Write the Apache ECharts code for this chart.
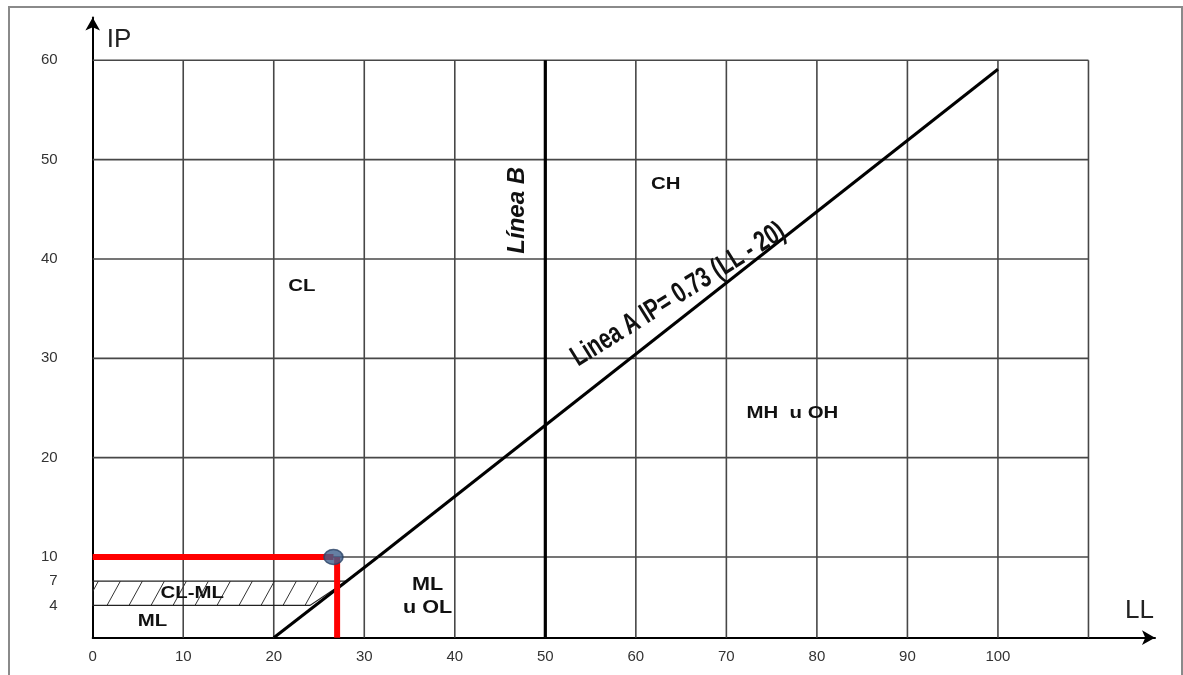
<!DOCTYPE html>
<html><head><meta charset="utf-8">
<script src="https://cdn.jsdelivr.net/npm/echarts@6/dist/echarts.min.js"></script>
<style>html,body{margin:0;padding:0;background:#fff}#c{width:1183px;height:675px}</style>
</head><body><div id="c"></div>
<script>
// ---------------- DATA ----------------
const LL_TICKS = [0, 10, 20, 30, 40, 50, 60, 70, 80, 90, 100];
const GRID_LL = [10, 20, 30, 40, 50, 60, 70, 80, 90, 100, 110];
const GRID_IP = [10, 20, 30, 40, 50, 60];
const IP_TICKS_LOW = [4, 7];
const LL_END = 110, IP_END = 60, IP_SPLIT = 10;
const lineA = [[20, 0], [31.5, 10], [100, 59.1]];
const lineB = [[50, 0], [50, 10], [50, 60]];
const hatchZone = [[0, 4], [0, 7], [28, 7], [24, 4]];
const samplePoint = [26.6, 10];
const sampleDropLL = 27;
const zoneNames = ['CL', 'CH', 'MH  u OH', 'ML\nu OL', 'CL-ML', 'ML'];
const zoneLL = [23.1, 63.3, 77.3, 37.0, 11.0, 6.6];
const zoneIP = [37.2, 47.5, 24.5, 5.13, 5.5, 2.0];
const lineNames = ['Línea B', 'Linea A IP= 0.73 (LL - 20)'];
const lineNameLL = [46.9, 64.7];
const lineNameIP = [44.9, 36.4];

// ---------------- STYLE / BUILD ----------------
const FONT = '"Liberation Sans", Arial, sans-serif';
const X_MAX = 117.35, Y_TOP = 64.3;

function segItem(color, width) {
  return function (params, api) {
    const p1 = api.coord([api.value(0), api.value(1)]);
    const p2 = api.coord([api.value(2), api.value(3)]);
    return { type: 'line', shape: { x1: p1[0], y1: p1[1], x2: p2[0], y2: p2[1] },
      style: { stroke: color, lineWidth: width } };
  };
}
const vLow = GRID_LL.map(x => [x, 0, x, IP_SPLIT]);
const vHigh = GRID_LL.map(x => [x, IP_SPLIT, x, IP_END]);
const hHigh = GRID_IP.map(y => [0, y, LL_END, y]);

// hatch pattern
const pc = document.createElement('canvas');
pc.width = 22; pc.height = 40;
const pctx = pc.getContext('2d');
pctx.strokeStyle = '#333'; pctx.lineWidth = 1;
[-22, 0, 22].forEach(o => { pctx.beginPath(); pctx.moveTo(o, 40); pctx.lineTo(o + 22, 0); pctx.stroke(); });

// labels
const labels = [];
zoneNames.forEach((t, i) => {
  const multi = t.indexOf('\n') >= 0;
  labels.push({ ll: zoneLL[i], ip: zoneIP[i], text: t, fontSize: multi ? 18 : 17,
    fontWeight: 'bold', fontStyle: 'normal', scaleX: 1.2, rot: 0, lineHeight: 23 });
});
labels.push({ ll: lineNameLL[0], ip: lineNameIP[0], text: lineNames[0], fontSize: 24,
  fontWeight: 'bold', fontStyle: 'italic', scaleX: 1, rot: Math.PI / 2, lineHeight: 26 });
labels.push({ ll: lineNameLL[1], ip: lineNameIP[1], text: lineNames[1], fontSize: 29,
  fontWeight: 'bold', fontStyle: 'normal', scaleX: 0.72, rot: 32 * Math.PI / 180, lineHeight: 30 });
const lowLabels = labels.filter(l => l.ip < IP_SPLIT);
const highLabels = labels.filter(l => l.ip >= IP_SPLIT);
function textItem(list) {
  return function (params, api) {
    const t = list[params.dataIndex];
    const p = api.coord([api.value(0), api.value(1)]);
    return { type: 'text', x: p[0], y: p[1], rotation: t.rot, scaleX: t.scaleX,
      style: { text: t.text, fill: '#111', fontSize: t.fontSize, fontWeight: t.fontWeight,
        fontStyle: t.fontStyle, fontFamily: FONT, align: 'center', verticalAlign: 'middle',
        lineHeight: t.lineHeight } };
  };
}

const lineStyleBlack = { color: '#000', width: 3 };
const option = {
  backgroundColor: '#fff',
  animation: false,
  graphic: [{ type: 'rect', silent: true, z: -10,
    shape: { x: 9, y: 7, width: 1173, height: 700 },
    style: { fill: 'none', stroke: '#8a8a8a', lineWidth: 2 } }],
  grid: [
    { left: 92.7, right: 28, top: 557, height: 80.7, outerBoundsMode: 'none', containLabel: false },
    { left: 92.7, right: 28, top: 17.6, height: 539.4, outerBoundsMode: 'none', containLabel: false }
  ],
  xAxis: [
    { type: 'value', gridIndex: 0, min: 0, max: X_MAX, interval: 10,
      name: 'LL', nameLocation: 'end', nameGap: -30,
      nameTextStyle: { fontSize: 26, color: '#222', fontFamily: FONT, align: 'left', verticalAlign: 'bottom', padding: [0, 0, 14, 0] },
      axisLine: { show: true, symbol: ['none', 'arrow'], symbolSize: [11, 13], lineStyle: { color: '#000', width: 2 } },
      axisTick: { show: false }, splitLine: { show: false },
      axisLabel: { margin: 12, fontSize: 15, color: '#333', fontFamily: FONT, showMaxLabel: false,
        formatter: v => (LL_TICKS.indexOf(v) >= 0 ? String(v) : '') } },
    { type: 'value', gridIndex: 1, min: 0, max: X_MAX, show: false }
  ],
  yAxis: [
    { type: 'value', gridIndex: 0, min: 0, max: IP_SPLIT, interval: 1,
      axisLine: { show: true, lineStyle: { color: '#000', width: 2 } },
      axisTick: { show: false }, splitLine: { show: false },
      axisLabel: { margin: 35, fontSize: 15, color: '#333', fontFamily: FONT,
        formatter: v => (IP_TICKS_LOW.indexOf(v) >= 0 ? String(v) : '') } },
    { type: 'value', gridIndex: 1, min: IP_SPLIT, max: Y_TOP, interval: 10,
      name: 'IP', nameLocation: 'end', nameGap: -22.4,
      nameTextStyle: { fontSize: 26, color: '#222', fontFamily: FONT, align: 'left', verticalAlign: 'middle', padding: [0, 0, 0, 14] },
      axisLine: { show: true, symbol: ['none', 'arrow'], symbolSize: [11, 13], lineStyle: { color: '#000', width: 2 } },
      axisTick: { show: false }, splitLine: { show: false },
      axisLabel: { margin: 35, fontSize: 15, color: '#333', fontFamily: FONT, showMaxLabel: false,
        formatter: v => (GRID_IP.indexOf(v) >= 0 ? String(v) : '') } }
  ],
  series: [
    { type: 'custom', xAxisIndex: 0, yAxisIndex: 0, z: 1, renderItem: segItem('#474747', 1.6), data: vLow, silent: true },
    { type: 'custom', xAxisIndex: 1, yAxisIndex: 1, z: 1, renderItem: segItem('#474747', 1.6), data: vHigh.concat(hHigh), silent: true },
    { type: 'custom', xAxisIndex: 0, yAxisIndex: 0, z: 2, silent: true, data: [[0, 0]],
      renderItem: function (params, api) {
        const pts = hatchZone.map(p => api.coord(p));
        return { type: 'polygon', shape: { points: pts },
          style: { fill: { image: pc, repeat: 'repeat' }, stroke: '#222', lineWidth: 1.2 } };
      } },
    { type: 'line', xAxisIndex: 0, yAxisIndex: 0, z: 3, symbol: 'none', clip: false, data: lineA.slice(0, 2), lineStyle: lineStyleBlack },
    { type: 'line', xAxisIndex: 1, yAxisIndex: 1, z: 3, symbol: 'none', clip: false, data: lineA.slice(1), lineStyle: lineStyleBlack },
    { type: 'line', xAxisIndex: 0, yAxisIndex: 0, z: 3, symbol: 'none', clip: false, data: lineB.slice(0, 2), lineStyle: { color: '#000', width: 3.2 } },
    { type: 'line', xAxisIndex: 1, yAxisIndex: 1, z: 3, symbol: 'none', clip: false, data: lineB.slice(1), lineStyle: { color: '#000', width: 3.2 } },
    { type: 'line', xAxisIndex: 1, yAxisIndex: 1, z: 4, symbol: 'none', clip: false,
      data: [[0, samplePoint[1]], samplePoint], lineStyle: { color: '#ff0000', width: 6 } },
    { type: 'line', xAxisIndex: 0, yAxisIndex: 0, z: 4, symbol: 'none', clip: false,
      data: [[sampleDropLL, samplePoint[1]], [sampleDropLL, 0]], lineStyle: { color: '#ff0000', width: 6 } },
    { type: 'scatter', xAxisIndex: 1, yAxisIndex: 1, z: 5, clip: false, symbol: 'circle', symbolSize: [19, 15],
      data: [samplePoint], itemStyle: { color: '#3f5f8c', borderColor: '#2c4466', borderWidth: 1.5 } },
    { type: 'custom', xAxisIndex: 0, yAxisIndex: 0, z: 6, silent: true, renderItem: textItem(lowLabels),
      data: lowLabels.map(l => [l.ll, l.ip]) },
    { type: 'custom', xAxisIndex: 1, yAxisIndex: 1, z: 6, silent: true, renderItem: textItem(highLabels),
      data: highLabels.map(l => [l.ll, l.ip]) }
  ]
};
const chart = echarts.init(document.getElementById('c'), null, { renderer: 'canvas' });
chart.setOption(option);
</script>
</body></html>
